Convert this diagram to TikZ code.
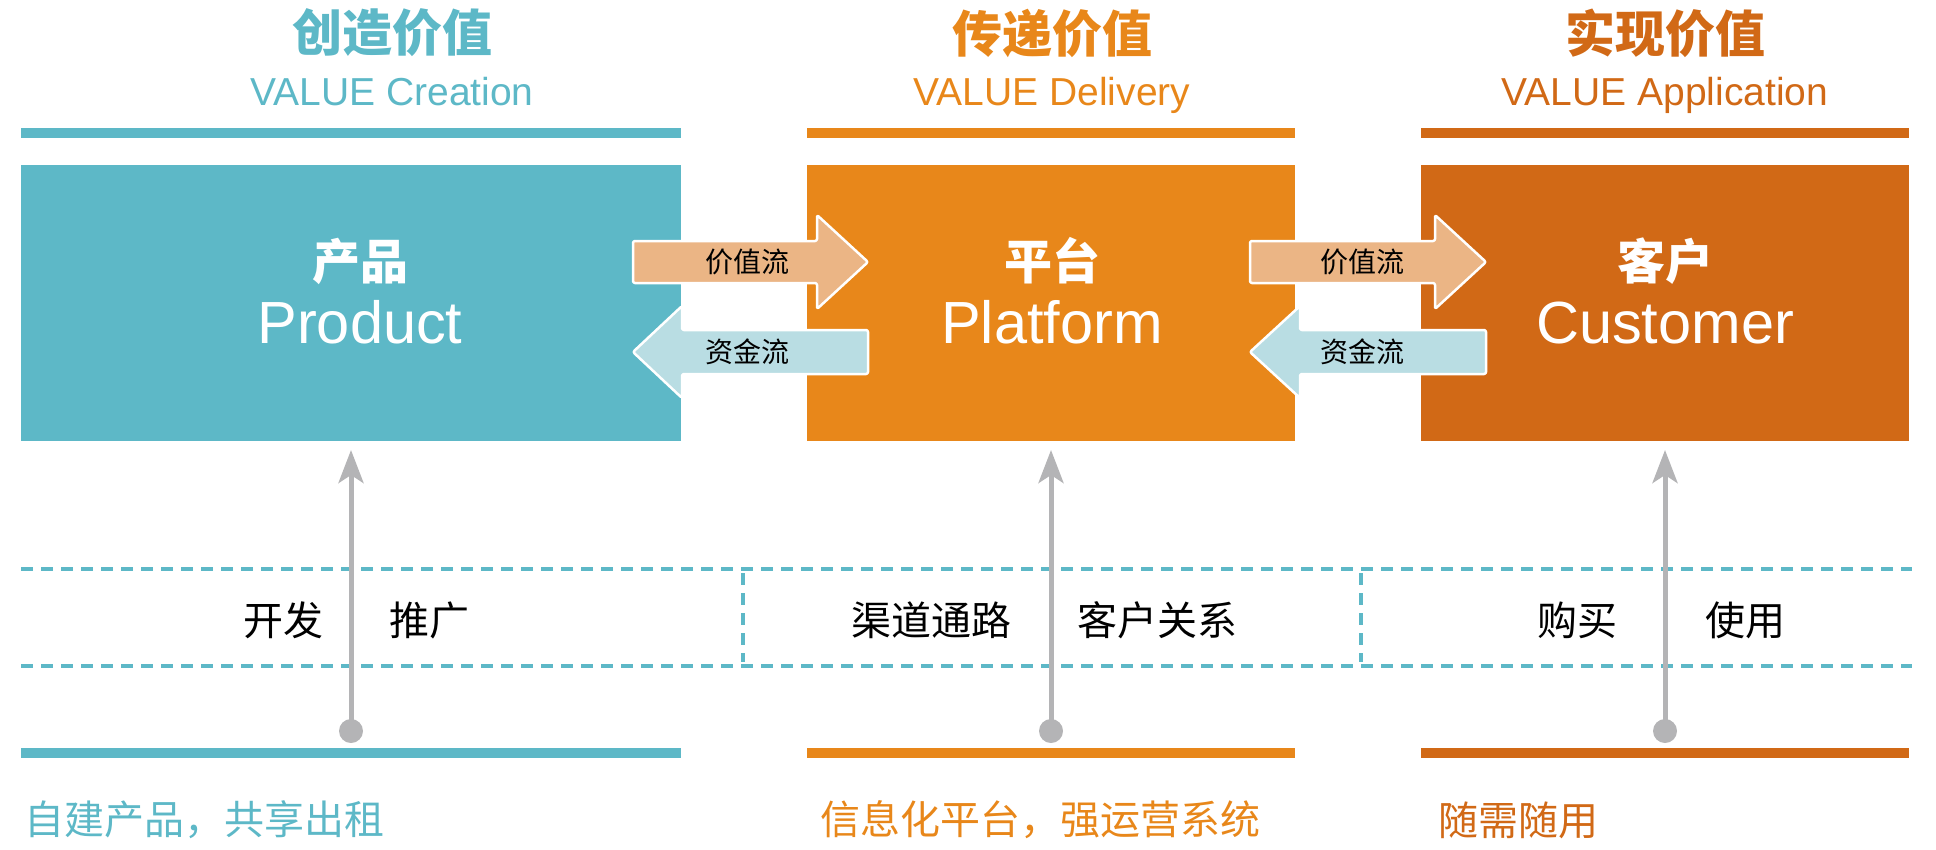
\documentclass[tikz,border=0pt]{standalone}
\usepackage{fontspec}
\setmainfont{Liberation Sans}
\newfontfamily\cjk{Noto Sans CJK SC}
\usetikzlibrary{arrows.meta}
\definecolor{crtcol}{HTML}{5DB8C7}
\definecolor{dlvcol}{HTML}{E8871A}
\definecolor{appcol}{HTML}{D16916}
\definecolor{valfill}{HTML}{EBB585}
\definecolor{fundfill}{HTML}{B9DDE3}
\definecolor{polecol}{HTML}{B4B4B6}
\begin{document}
\begin{tikzpicture}[x=1pt,y=-1pt,
  every node/.style={inner sep=0pt,outer sep=0pt},
  colbox/.style={minimum height=276pt,anchor=north west},
  ttl/.style={font=\cjk\bfseries\fontsize{50}{60}\selectfont},
  subttl/.style={anchor=base,font=\fontsize{39}{47}\selectfont},
  boxcn/.style={text=white,font=\cjk\bfseries\fontsize{48}{58}\selectfont},
  boxen/.style={text=white,anchor=base,font=\fontsize{59.5}{71}\selectfont},
  flowarr/.style={draw=white,line width=2.5pt,rounded corners=2pt,line join=round},
  flowlbl/.style={font=\cjk\fontsize{28}{34}\selectfont},
  rowtxt/.style={font=\cjk\fontsize{40}{48}\selectfont},
  note/.style={anchor=west,font=\cjk\fontsize{40}{48}\selectfont},
  dashln/.style={crtcol,line width=4.5pt,dash pattern=on 12pt off 8pt},
  dot/.style={circle,fill=polecol,minimum size=24pt},
  pole/.style={polecol,line width=5pt,-{Stealth[length=33pt,width=25pt,inset=8pt]}}]
\useasboundingbox (0,0) rectangle (1936,849);

% titles
\node[ttl,text=crtcol] (t1) at (392,33) {创造价值};
\node[subttl,text=crtcol] (s1) at (392,105) {VALUE Creation};
\node[ttl,text=dlvcol] (t2) at (1052,33) {传递价值};
\node[subttl,text=dlvcol] (s2) at (1052,105) {VALUE Delivery};
\node[ttl,text=appcol] (t3) at (1665,33) {实现价值};
\node[subttl,text=appcol] (s3) at (1665,105) {VALUE Application};

% bars
\fill[crtcol] (21,128) rectangle (681,138);
\fill[dlvcol] (807,128) rectangle (1295,138);
\fill[appcol] (1421,128) rectangle (1909,138);
\fill[crtcol] (21,748) rectangle (681,758);
\fill[dlvcol] (807,748) rectangle (1295,758);
\fill[appcol] (1421,748) rectangle (1909,758);

% the three blocks
\node[colbox,fill=crtcol,minimum width=660pt] (prod) at (21,165) {};
\node[colbox,fill=dlvcol,minimum width=488pt] (plat) at (807,165) {};
\node[colbox,fill=appcol,minimum width=488pt] (cust) at (1421,165) {};
\node[boxcn] (prodcn) at (360,261) {产品};
\node[boxen] (proden) at (360,343) {Product};
\node[boxcn] (platcn) at (1052,261) {平台};
\node[boxen] (platen) at (1052,343) {Platform};
\node[boxcn] (custcn) at (1665,261) {客户};
\node[boxen] (custen) at (1665,343) {Customer};

% flows
\filldraw[flowarr,fill=valfill] (633,241) -- (817,241) -- (817,215) -- (868,262)
  -- (817,309) -- (817,283) -- (633,283) -- cycle;
\filldraw[flowarr,fill=fundfill] (868,330) -- (682,330) -- (682,306) -- (633,352)
  -- (682,398) -- (682,374) -- (868,374) -- cycle;
\filldraw[flowarr,fill=valfill] (1250,241) -- (1435,241) -- (1435,215) -- (1486,262)
  -- (1435,309) -- (1435,283) -- (1250,283) -- cycle;
\filldraw[flowarr,fill=fundfill] (1486,330) -- (1300,330) -- (1300,306) -- (1250,352)
  -- (1300,398) -- (1300,374) -- (1486,374) -- cycle;
\node[flowlbl] (val1) at (747,262) {价值流};
\node[flowlbl] (fund1) at (747,352) {资金流};
\node[flowlbl] (val2) at (1362,262) {价值流};
\node[flowlbl] (fund2) at (1362,352) {资金流};

% dashed band
\draw[dashln] (21,569) -- (1912,569);
\draw[dashln] (21,666) -- (1912,666);
\draw[dashln] (743,573) -- (743,662);
\draw[dashln] (1361,573) -- (1361,662);
\node[rowtxt] (kf) at (283,620) {开发};
\node[rowtxt] (tg) at (429,620) {推广};
\node[rowtxt] (qd) at (931,620) {渠道通路};
\node[rowtxt] (kh) at (1157,620) {客户关系};
\node[rowtxt] (gm) at (1577,620) {购买};
\node[rowtxt] (sy) at (1745,620) {使用};

% poles
\node[dot] (d1) at (351,731) {};
\node[dot] (d2) at (1051,731) {};
\node[dot] (d3) at (1665,731) {};
\draw[pole] (d1.center) -- ([yshift=-9pt]prod.south);
\draw[pole] (d2.center) -- ([yshift=-9pt]plat.south);
\draw[pole] (d3.center) -- ([yshift=-9pt]cust.south);

% notes
\node[note,text=crtcol] (n1) at (24,820) {自建产品，共享出租};
\node[note,text=dlvcol] (n2) at (820,820) {信息化平台，强运营系统};
\node[note,text=appcol] (n3) at (1438,820) {随需随用};
\end{tikzpicture}
\end{document}
